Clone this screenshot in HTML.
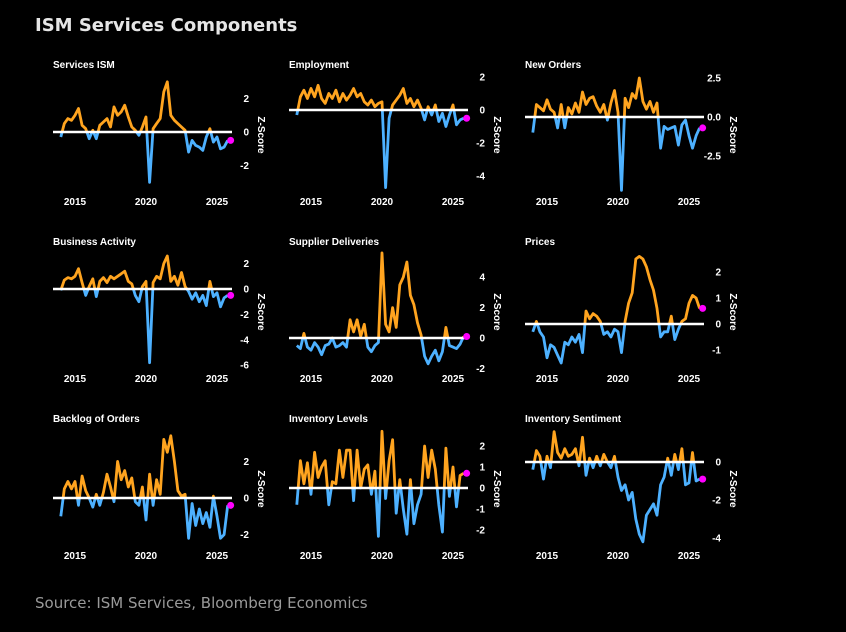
<!DOCTYPE html>
<html><head><meta charset="utf-8"><style>
html,body{margin:0;padding:0;background:#000;}
svg{display:block;font-family:"Liberation Sans",Arial,sans-serif;}
</style></head><body>
<svg id="chart" width="846" height="632" viewBox="0 0 846 632" xmlns="http://www.w3.org/2000/svg">
<rect width="846" height="632" fill="#000"/>
<text x="35" y="31" fill="#e6e6e6" font-size="18" font-weight="bold" font-family="'DejaVu Sans', sans-serif">ISM Services Components</text>
<text x="35" y="608" fill="#9a9a9a" font-size="15" font-family="'DejaVu Sans', sans-serif">Source: ISM Services, Bloomberg Economics</text>
<g id="panels"></g>
</svg>
<script>
const startYear = 2014;
const step = 0.25;
const panelTitles = ["Services ISM","Employment","New Orders","Business Activity","Supplier Deliveries","Prices","Backlog of Orders","Inventory Levels","Inventory Sentiment"];
const yearTicks = [2015, 2020, 2025];
const servicesIsm = [-0.3,0.5,0.8,0.7, 1.0,1.4,0.4,0.2, -0.4,0.1,-0.4,0.4, 0.6,0.8,0.3,1.5, 1.0,1.2,1.6,0.9, 0.3,0.1,-0.2,0.3, 0.9,-3.0,0.2,0.5, 0.8,2.4,3.0,1.0, 0.7,0.5,0.3,0.1, -1.2,-0.5,-0.8,-0.9, -1.1,-0.3,0.2,-0.6, -0.3,-1.0,-0.9,-0.5];
const employment = [-0.3,0.8,1.2,0.7, 1.3,0.8,1.5,0.7, 0.4,1.0,0.7,1.2, 0.5,1.0,0.6,0.9, 1.3,0.8,1.0,0.5, 0.3,0.6,0.2,0.4, 0.5,-4.7,-0.5,0.3, 0.6,0.9,1.3,0.4, 0.7,0.2,0.6,0.1, -0.6,0.2,-0.3,0.3, -0.7,-0.2,-1.0,-0.3, 0.3,-0.9,-0.6,-0.5];
const newOrders = [-1.0,0.8,0.6,0.4, 1.1,0.5,0.3,-0.7, 0.8,-0.7,0.6,0.2, 0.9,0.3,1.6,0.8, 1.2,1.3,0.7,0.3, 0.8,-0.2,0.9,1.7, 0.3,-4.7,1.2,0.6, 1.5,1.2,2.5,1.0, 0.5,1.0,0.3,0.9, -2.0,-0.6,-0.8,-0.7, -0.6,-1.8,-0.5,-0.2, -1.2,-2.0,-1.2,-0.7];
const businessActivity = [-0.1,0.7,0.9,0.8, 1.0,1.6,0.5,-0.5, 0.2,0.8,-0.6,0.6, 0.9,0.5,1.0,0.8, 1.0,1.2,1.4,0.6, 0.4,-0.5,-1.0,0.2, 0.6,-5.8,0.5,1.0, 0.8,2.0,2.6,0.6, 1.0,0.3,1.3,0.2, -0.2,-0.8,-0.3,-1.0, -0.5,-1.3,0.6,-0.6, -0.3,-1.4,-0.7,-0.5];
const supplierDeliveries = [-0.5,-0.7,0.3,-0.6, -0.8,-0.3,-0.6,-1.1, -0.5,-0.4,0.0,-0.6, -0.5,-0.3,-0.6,1.2, 0.4,1.2,0.1,0.9, -0.6,-0.9,-0.5,-0.3, 5.6,0.9,0.4,2.0, 0.7,3.5,4.0,5.0, 2.8,2.2,1.0,0.2, -1.2,-1.7,-1.2,-0.8, -1.5,-0.9,0.7,-0.5, -0.6,-0.7,-0.4,0.1];
const prices = [-0.3,0.1,-0.3,-0.5, -1.3,-0.8,-0.9,-1.2, -1.5,-0.7,-0.8,-0.5, -0.7,-0.4,-1.1,0.5, 0.2,0.4,0.3,0.1, -0.4,-0.3,-0.5,-0.2, -0.3,-1.1,0.1,0.8, 1.2,2.5,2.6,2.5, 2.2,1.7,1.3,0.6, -0.5,-0.3,-0.3,0.3, -0.6,-0.2,0.1,0.2, 0.8,1.1,1.0,0.6];
const backlog = [-1.0,0.5,0.9,0.5, 0.9,-0.4,1.2,0.4, 0.0,-0.5,0.2,-0.4, 0.3,1.3,0.6,-0.2, 2.0,1.0,1.5,0.6, 1.1,-0.2,-0.4,0.6, -1.2,1.3,-0.4,1.0, 0.2,3.2,2.5,3.4, 2.0,0.4,0.1,0.2, -2.2,-0.3,-1.5,-0.6, -1.4,-0.8,-1.6,0.1, -1.0,-2.2,-2.0,-0.4];
const inventoryLevels = [-0.8,1.3,0.2,1.2, -0.3,1.7,0.5,1.0, 1.3,-0.8,0.3,0.2, 1.8,0.5,1.8,1.8, -0.6,1.8,0.0,0.9, 1.1,-0.3,0.8,-2.3, 2.7,-0.5,1.3,2.3, -1.2,0.4,-1.0,-2.2, 0.4,-1.7,-0.8,-0.3, 2.0,0.5,1.8,0.9, -0.8,-2.1,1.9,-0.4, 1.0,-0.9,0.6,0.7];
const inventorySentiment = [-0.4,0.6,0.3,-0.9, 0.3,-0.3,1.6,0.5, 0.2,0.7,0.3,0.4, 0.7,-0.2,1.3,-0.7, 0.2,-0.3,0.3,-0.2, 0.4,0.0,-0.3,0.3, -0.8,-1.5,-1.2,-2.0, -1.6,-3.0,-3.8,-4.2, -2.8,-2.5,-2.2,-2.8, -1.2,-0.8,0.2,-0.7, 0.4,-0.4,0.7,-1.2, -1.1,0.5,-1.0,-0.9];
const seriesList = [servicesIsm, employment, newOrders, businessActivity, supplierDeliveries, prices, backlog, inventoryLevels, inventorySentiment];
const tickValues = [[2,0,-2],[2,0,-2,-4],[2.5,0,-2.5],[2,0,-2,-4,-6],[4,2,0,-2],[2,1,0,-1],[2,0,-2],[2,1,0,-1,-2],[0,-2,-4]];
const tickDecimals = [0,0,1,0,0,0,0,0,0];
const zeroYs = [132,110,117,289,338,324,498,488,462];
const pxPerUnit = [16.75,16.5,15.6,12.7,15.2,26,18.3,21,19];

const NS = "http://www.w3.org/2000/svg";
const root = document.getElementById('panels');
function mk(tag, attrs, parent){const e=document.createElementNS(NS,tag);for(const k in attrs)e.setAttribute(k,attrs[k]);(parent||root).appendChild(e);return e;}

seriesList.forEach((vals, p) => {
  const col = p % 3, row = Math.floor(p / 3);
  const ox = col * 236, oy = row * 177;
  const xScale = yr => 75 + ox + (yr - 2015) * 14.2;
  const z0 = zeroYs[p], k = pxPerUnit[p];
  const yScale = v => z0 - v * k;
  const g = mk('g', {});
  
  
  const t = mk('text', {x: 53 + ox, y: 68 + oy, fill: '#fff', 'font-size': 10, 'font-weight': 'bold'}, g);
  t.textContent = panelTitles[p];
  
  
  const idA = 'ca' + p, idB = 'cb' + p;
  const cA = mk('clipPath', {id: idA}, g); mk('rect', {x: ox, y: oy, width: 236, height: z0 - oy}, cA);
  const cB = mk('clipPath', {id: idB}, g); mk('rect', {x: ox, y: z0, width: 236, height: 400}, cB);
  let d = '';
  vals.forEach((v, i) => { d += (i ? 'L' : 'M') + xScale(startYear + i * step).toFixed(1) + ' ' + yScale(v).toFixed(1); });
  const lo = mk('path', {d: d, fill: 'none', stroke: '#4db1ff', 'stroke-width': 2.8, 'stroke-linejoin': 'round', 'clip-path': 'url(#' + idB + ')'}, g);
  
  
  const hi = mk('path', {d: d, fill: 'none', stroke: '#ffa41f', 'stroke-width': 2.8, 'stroke-linejoin': 'round', 'clip-path': 'url(#' + idA + ')'}, g);
  
  
  const zl = mk('line', {x1: 53 + ox, x2: 232 + ox, y1: z0, y2: z0, stroke: '#fff', 'stroke-width': 2.5}, g);
  
  
  const last = vals.length - 1;
  const dot = mk('circle', {cx: xScale(startYear + last * step) + 3, cy: yScale(vals[last]), r: 3.5, fill: '#ff00ff'}, g);
  
  
  tickValues[p].forEach(tv => {
    const tt = mk('text', {x: 249 + ox, y: yScale(tv) + 3.5, fill: '#fff', 'font-size': 10, 'font-weight': 'bold', 'text-anchor': 'end'}, g);
    tt.textContent = tv.toFixed(tickDecimals[p]);
    
    
  });
  yearTicks.forEach(yr => {
    const xt = mk('text', {x: xScale(yr), y: 205 + oy, fill: '#fff', 'font-size': 10, 'font-weight': 'bold', 'text-anchor': 'middle'}, g);
    xt.textContent = yr;
    
    
  });
  const zs = mk('text', {x: 0, y: 0, fill: '#fff', 'font-size': 10, 'font-weight': 'bold', 'text-anchor': 'middle', transform: 'translate(' + (258 + ox) + ',' + (135 + oy) + ') rotate(90)'}, g);
  zs.textContent = 'Z-Score';
  
  
});
</script>
</body></html>
